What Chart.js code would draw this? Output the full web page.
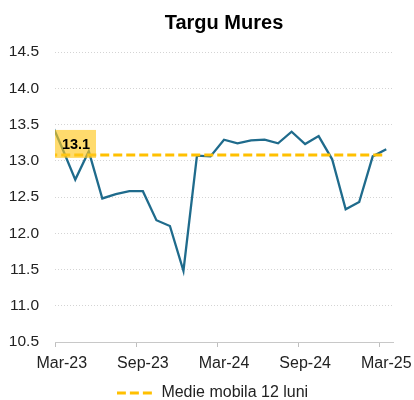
<!DOCTYPE html>
<html>
<head>
<meta charset="utf-8">
<script src="https://cdn.jsdelivr.net/npm/chart.js@4/dist/chart.umd.min.js"></script>
<style>
html,body{margin:0;padding:0;background:#fff;}
#wrap{width:414px;height:400px;}
</style>
</head>
<body>
<div id="wrap"><canvas id="c" width="414" height="400"></canvas></div>
<script>
// Month categories (index 0 = Feb-23, partly outside the left edge of the plot)
const months = ['Feb-23','Mar-23','Apr-23','May-23','Jun-23','Jul-23','Aug-23','Sep-23','Oct-23','Nov-23','Dec-23','Jan-24','Feb-24',
                'Mar-24','Apr-24','May-24','Jun-24','Jul-24','Aug-24','Sep-24','Oct-24','Nov-24','Dec-24','Jan-25','Feb-25','Mar-25'];
// Price series
const prices = [13.62, 13.19, 12.74, 13.13, 12.48, 12.54, 12.58, 12.58, 12.18, 12.10, 11.48, 13.07, 13.06,
                13.29, 13.24, 13.28, 13.29, 13.24, 13.40, 13.23, 13.34, 13.02, 12.33, 12.43, 13.06, 13.16];
// 12-month moving average
const movingAvg = [13.08, 13.08, 13.08, 13.08, 13.08, 13.08, 13.08, 13.08, 13.08, 13.08, 13.08, 13.08, 13.08,
                   13.08, 13.08, 13.08, 13.08, 13.08, 13.08, 13.08, 13.08, 13.08, 13.08, 13.08, 13.08, 13.08];
// Month indices that carry an x-axis label
const xLabelIdx = [1, 7, 13, 19, 25];
// Y axis range / step
const yMin = 10.5, yMax = 14.5, yStep = 0.5;

const FONT = "'Liberation Sans', Arial, sans-serif";
const AVG_COLOR = '#ffc000';

// dashed line swatch for the legend
const swatch = document.createElement('canvas');
swatch.width = 38; swatch.height = 4;
(function () {
  const g = swatch.getContext('2d');
  g.strokeStyle = AVG_COLOR;
  g.lineWidth = 3;
  g.setLineDash([9, 4]);
  g.beginPath(); g.moveTo(0, 2); g.lineTo(38, 2); g.stroke();
})();

const avgLabel = {
  id: 'avgLabel',
  afterDatasetsDraw(chart) {
    const {ctx, chartArea, scales} = chart;
    const yv = scales.y.getPixelForValue(movingAvg[1]);
    ctx.save();
    ctx.fillStyle = 'rgba(255,200,30,0.65)';
    ctx.fillRect(chartArea.left, yv - 25, 41, 28);
    ctx.fillStyle = '#000';
    ctx.font = 'bold 14.5px ' + FONT;
    ctx.textAlign = 'center';
    ctx.textBaseline = 'middle';
    ctx.fillText(movingAvg[1].toFixed(1), chartArea.left + 21, yv - 10);
    ctx.restore();
  }
};

new Chart(document.getElementById('c'), {
  type: 'line',
  data: {
    datasets: [
      {
        label: 'Targu Mures',
        data: prices.map((v, i) => ({x: i, y: v})),
        borderColor: '#1f6b8c',
        borderWidth: 2.3,
        pointRadius: 0,
        tension: 0,
        clip: 0,
        order: 1
      },
      {
        label: 'Medie mobila 12 luni',
        data: movingAvg.map((v, i) => ({x: i, y: v})),
        borderColor: AVG_COLOR,
        backgroundColor: AVG_COLOR,
        borderWidth: 3,
        borderDash: [9, 4],
        pointRadius: 0,
        tension: 0,
        clip: 0,
        order: 0
      }
    ]
  },
  options: {
    responsive: false,
    animation: false,
    layout: {padding: {left: 0, right: -12.5, top: 0, bottom: -11}},
    scales: {
      x: {
        type: 'linear',
        min: 0.5,
        max: 25.5,
        afterBuildTicks: s => { s.ticks = xLabelIdx.map(i => ({value: i - 0.5})); },
        afterFit: s => { s.height = 38; },
        ticks: {
          callback: v => months[Math.round(v + 0.5)],
          labelOffset: 6.8,
          padding: 7,
          autoSkip: false,
          maxRotation: 0,
          color: '#222',
          font: {family: FONT, size: 16}
        },
        grid: {drawOnChartArea: false, drawTicks: true, tickLength: 5, color: '#bfbfbf', tickColor: '#bfbfbf'},
        border: {display: true, color: '#c8c8c8'}
      },
      y: {
        min: yMin,
        max: yMax,
        afterFit: s => { s.width = 55; },
        ticks: {
          stepSize: yStep,
          callback: v => v.toFixed(1),
          padding: 16,
          color: '#222',
          font: {family: FONT, size: 15.5}
        },
        grid: {drawTicks: false, color: '#d4d4d4', lineWidth: 1},
        border: {display: false, dash: [1, 2]}
      },
      yRight: {
        position: 'right',
        display: true,
        min: yMin,
        max: yMax,
        afterFit: s => { s.width = 33.5; },
        ticks: {display: false},
        grid: {display: false, drawTicks: false},
        border: {display: false}
      }
    },
    plugins: {
      title: {
        display: true,
        text: 'Targu Mures',
        fullSize: false,
        color: '#000',
        font: {family: FONT, size: 20, weight: 'bold'},
        padding: {top: 11, bottom: 17}
      },
      legend: {
        position: 'bottom',
        fullSize: true,
        labels: {
          filter: item => item.datasetIndex === 1,
          usePointStyle: true,
          pointStyle: swatch,
          pointStyleWidth: 35,
          color: '#222',
          font: {family: FONT, size: 16},
          padding: 5
        }
      },
      tooltip: {enabled: false}
    }
  },
  plugins: [avgLabel]
});
</script>
</body>
</html>
